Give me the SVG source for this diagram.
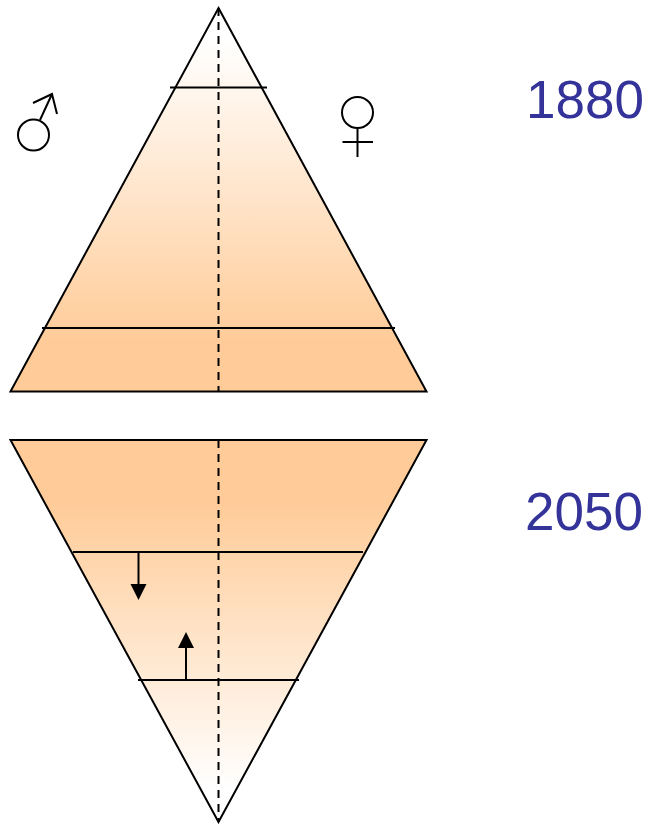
<svg xmlns="http://www.w3.org/2000/svg" width="647" height="824" viewBox="0 0 647 824">
<style>
.o{stroke:#000;stroke-width:2;fill:none}
.f{stroke:#000;stroke-width:2;stroke-linejoin:miter}
.d{stroke:#000;stroke-width:2;stroke-dasharray:8 6;fill:none}
.t{font-family:"Liberation Sans",Arial,sans-serif;font-size:53px;fill:#333399}
</style>
<defs>
<linearGradient id="gt" gradientUnits="userSpaceOnUse" x1="0" y1="40" x2="0" y2="340"><stop offset="0" stop-color="#fff"/><stop offset="1" stop-color="#ffcc99"/></linearGradient>
<linearGradient id="gb" gradientUnits="userSpaceOnUse" x1="0" y1="790" x2="0" y2="505"><stop offset="0" stop-color="#fff"/><stop offset="1" stop-color="#ffcc99"/></linearGradient>
</defs>
<g id="pyramid-1880">
<path class="f" fill="url(#gt)" d="M218.5 8L426.5 391.5H10.5Z"/>
<path class="o" d="M170 87.500H267M42 328H395"/>
<path class="d" d="M218.500 8V391"/>
</g>
<g id="pyramid-2050">
<path class="f" fill="url(#gb)" d="M10.500 440H426.500L218.500 822Z"/>
<path class="o" d="M73 552H363M138 680H299"/>
<path class="d" d="M218.500 440V822"/>
</g>
<g id="connectors">
<path class="o" d="M138.500 552V584"/>
<path d="M130.500 584H146.500L138.500 600Z" fill="#000"/>
<path class="o" d="M186 680V648"/>
<path d="M178 648H194L186 632Z" fill="#000"/>
</g>
<g id="male">
<circle class="o" cx="33.500" cy="135" r="15.500"/>
<path class="o" d="M40 120L52 94M33 103L52 94L57 114"/>
</g>
<g id="female">
<circle class="o" cx="357.500" cy="112.500" r="15.500"/>
<path class="o" d="M357.500 128V157M342.500 142H373"/>
</g>
<g id="label-1880"><text class="t" x="526" y="118">1880</text></g>
<g id="label-2050"><text class="t" x="525" y="530">2050</text></g>
</svg>
